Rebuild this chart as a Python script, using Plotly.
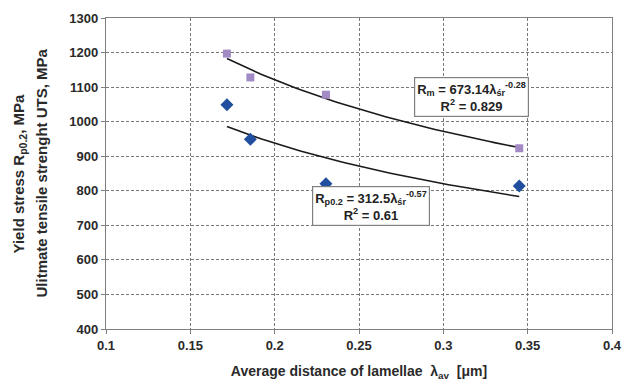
import numpy as np
import plotly.graph_objects as go

# Data
lam_rm = [0.1717, 0.1856, 0.2304, 0.345]
rm_vals = [1197, 1128, 1078, 923]
lam_rp = [0.1717, 0.1856, 0.2304, 0.345]
rp_vals = [1049, 949, 820, 814]
x_ticks = [0.1, 0.15, 0.2, 0.25, 0.3, 0.35, 0.4]
y_ticks = [400, 500, 600, 700, 800, 900, 1000, 1100, 1200, 1300]


def power_fit(x, y):
    b, a = np.polyfit(np.log(x), np.log(y), 1)
    xs = np.linspace(min(x), max(x), 60)
    return xs, np.exp(a) * xs ** b


fig = go.Figure()
for xv, yv in (power_fit(lam_rm, rm_vals), power_fit(lam_rp, rp_vals)):
    fig.add_trace(go.Scatter(x=xv, y=yv, mode="lines",
                             line=dict(color="#1a1a1a", width=1.6),
                             showlegend=False, hoverinfo="skip"))

fig.add_trace(go.Scatter(x=lam_rm, y=rm_vals, mode="markers",
                         marker=dict(symbol="square", size=8, color="#a28ac4",
                                     line=dict(width=0)),
                         showlegend=False))
fig.add_trace(go.Scatter(x=lam_rp, y=rp_vals, mode="markers",
                         marker=dict(symbol="diamond", size=10, color="#1f4f9e",
                                     line=dict(width=0)),
                         showlegend=False))

FAM = "Liberation Sans, Arial"
tick_font = dict(family=FAM, size=13, color="#2a2a2a")
axis_common = dict(showline=True, linecolor="#808080", linewidth=1.3, mirror=True,
                   ticks="outside", ticklen=4, tickcolor="#808080",
                   showgrid=True, gridcolor="#777777", gridwidth=1, griddash="3px,2px",
                   zeroline=False, tickfont=tick_font)

fig.update_xaxes(range=[0.1, 0.4], tickvals=x_ticks,
                 ticktext=[f"<b>{v:g}</b>" for v in x_ticks],
                 title=dict(text="<b>Average distance of lamellae  λ<sub>av</sub>  [μm]</b>",
                            font=dict(family=FAM, size=14, color="#2a2a2a"),
                            standoff=14),
                 **axis_common)
fig.update_yaxes(range=[400, 1300], tickvals=y_ticks,
                 ticktext=[f"<b>{v}</b>" for v in y_ticks],
                 **axis_common)

ann_font = dict(family=FAM, size=13, color="#222222")
fig.add_annotation(x=0.3165, y=1070, xref="x", yref="y",
                   text="<b>R<sub>m</sub> = 673.14λ<sub>śr</sub><sup>-0.28</sup><br>R<sup>2</sup> = 0.829</b>",
                   showarrow=False, font=ann_font, bgcolor="white",
                   bordercolor="#808080", borderwidth=1.2, borderpad=2)
fig.add_annotation(x=0.2571, y=757, xref="x", yref="y",
                   text="<b>R<sub>p0.2</sub> = 312.5λ<sub>śr</sub><sup>-0.57</sup><br>R<sup>2</sup> = 0.61</b>",
                   showarrow=False, font=ann_font, bgcolor="white",
                   bordercolor="#808080", borderwidth=1.2, borderpad=2)

# Y axis title (two lines)
ytitle_font = dict(family=FAM, size=15, color="#2a2a2a")
fig.add_annotation(x=0, y=0.5, xref="paper", yref="paper", xshift=-87, xanchor="center",
                   text="<b>Yield stress R<sub>p0.2</sub>, MPa</b>", textangle=-90,
                   showarrow=False, font=ytitle_font)
fig.add_annotation(x=0, y=0.5, xref="paper", yref="paper", xshift=-65, xanchor="center",
                   text="<b>Ulitmate tensile strenght UTS, MPa</b>", textangle=-90,
                   showarrow=False, font=ytitle_font)

fig.update_layout(width=633, height=388,
                  margin=dict(l=106, r=11, t=16, b=58),
                  paper_bgcolor="white", plot_bgcolor="white")

fig.write_html("out.html")
